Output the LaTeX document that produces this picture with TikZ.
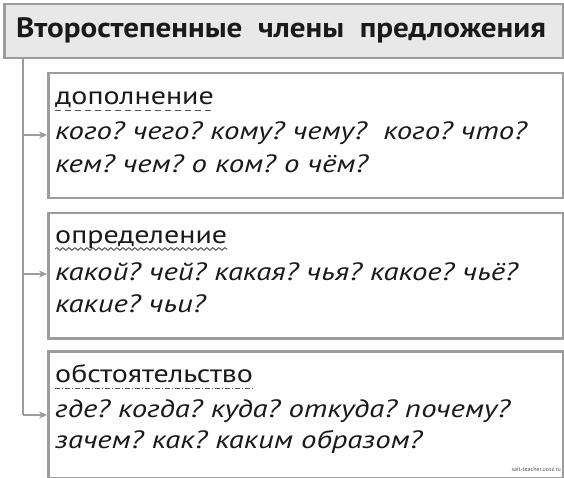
\documentclass[tikz,border=0pt]{standalone}
\usepackage{fontspec}
\setmainfont{PT Sans}
\newfontfamily\titlefont[FakeStretch=1.11]{PT Sans}
\newfontfamily\headfont[FakeStretch=1.2]{PT Sans}
\newfontfamily\qfont[FakeStretch=1.23]{PT Sans}
\usetikzlibrary{arrows.meta,calc,decorations.pathmorphing}
\definecolor{bordergray}{HTML}{9C9C9C}
\definecolor{titlefill}{HTML}{E8E8E8}
\definecolor{txt}{HTML}{1A1A1A}
\definecolor{ulgray}{HTML}{555555}
\tikzset{
  box/.style={draw=bordergray, line width=2.5pt, fill=white, anchor=north west, inner sep=0pt, minimum width=515pt},
  conn/.style={draw=bordergray, line width=2.5pt, -{Stealth[length=8pt,width=7pt]}},
  spine/.style={draw=bordergray, line width=2.5pt},
  head/.style={anchor=base west, inner sep=0pt, font=\headfont\fontsize{25}{25}\selectfont, text=txt},
  qtext/.style={anchor=base west, inner sep=0pt, font=\qfont\fontsize{25}{25}\selectfont\itshape, text=txt},
  ul/.style={draw=ulgray, line width=1pt},
}
\begin{document}
\begin{tikzpicture}[x=1pt,y=-1pt]
\useasboundingbox (0,0) rectangle (564,478);
% title
\node[draw=bordergray, line width=2.5pt, fill=titlefill, anchor=north west, inner sep=0pt,
      minimum width=559pt, minimum height=54pt] (title) at (3,3) {};
\node[font=\titlefont\fontsize{28}{28}\selectfont\bfseries, text=txt, anchor=base] (tt) at (281,38) {Второстепенные\ \ члены\ \ предложения};
% boxes
\node[box, minimum height=125pt] (box1) at (47,72) {};
\node[box, minimum height=125pt] (box2) at (47,212) {};
\node[box, minimum height=127pt] (box3) at (47,350) {};
% spine and arrows
\coordinate (s0) at (23,57);
\coordinate (a1) at (23,135);
\coordinate (a2) at (23,274);
\coordinate (a3) at (23,415);
\draw[spine] (s0) -- (a3);
\draw[conn] (a1) -- (a1 -| box1.west);
\draw[conn] (a2) -- (a2 -| box2.west);
\draw[conn] (a3) -- (a3 -| box3.west);
% box 1
\node[head] (h1) at (55,105) {дополнение};
\node[qtext] (q1a) at (55,140) {кого?\ чего?\ кому?\ чему?\ \ кого?\ что?};
\node[qtext] (q1b) at (55,173) {кем?\ чем?\ о\ ком?\ о\ чём?};
\draw[ul, dash pattern=on 6pt off 4pt] ($(h1.base west)+(0,6)$) -- ($(h1.base east)+(0,6)$);
% box 2
\node[head] (h2) at (55,243) {определение};
\node[qtext] (q2a) at (55,280) {какой?\ чей?\ какая?\ чья?\ какое?\ чьё?};
\node[qtext] (q2b) at (55,312) {какие?\ чьи?};
\draw[ul, decorate, decoration={snake, segment length=6pt, amplitude=1.3pt}] ($(h2.base west)+(0,6)$) -- ($(h2.base east)+(0,6)$);
% box 3
\node[head] (h3) at (55,382) {обстоятельство};
\node[qtext] (q3a) at (55,417) {где?\ когда?\ куда?\ откуда?\ почему?};
\node[qtext] (q3b) at (55,448) {зачем?\ как?\ каким\ образом?};
\draw[ul, dash pattern=on 5pt off 2pt on 1pt off 2pt] ($(h3.base west)+(0,6)$) -- ($(h3.base east)+(0,6)$);
% watermark
\node[anchor=base east, inner sep=0pt, font=\fontsize{6}{6}\selectfont, text=ulgray] (wm) at (561,471) {sait-teacher.ucoz.ru};
\end{tikzpicture}
\end{document}
